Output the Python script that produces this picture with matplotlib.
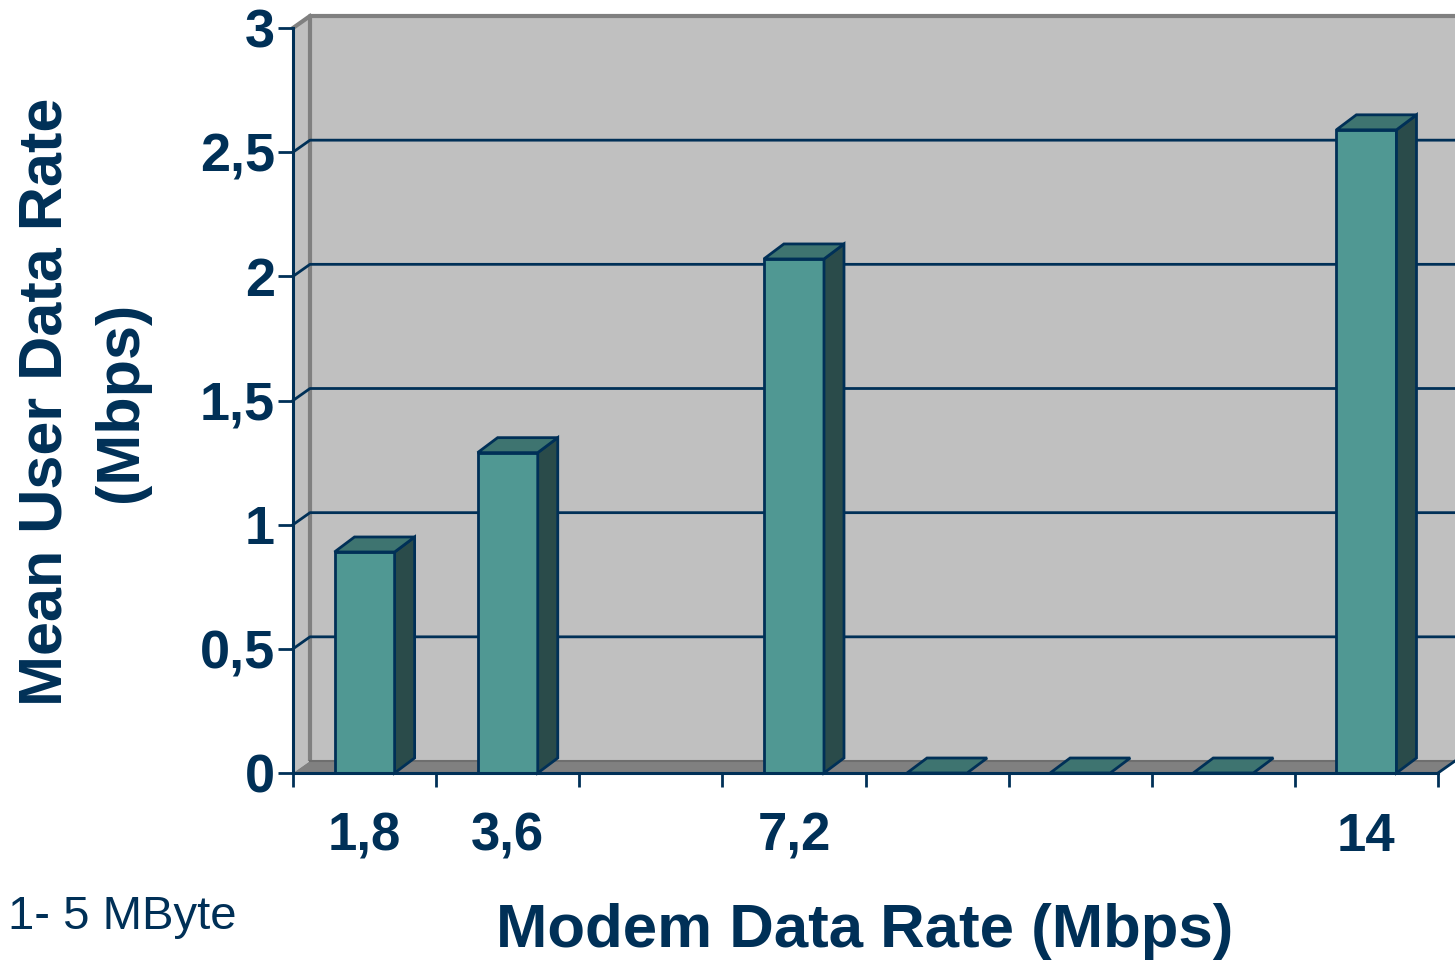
import matplotlib.pyplot as plt
from matplotlib.patches import Polygon
import numpy as np

# modem rate slots (8 positions on the category axis)
slot_labels = ['1,8', '3,6', '', '7,2', '', '', '', '14']
user_rate = [0.89, 1.29, np.nan, 2.07, 0, 0, 0, 2.59]
y_ticks = [0, 0.5, 1, 1.5, 2, 2.5, 3]
y_tick_labels = ['0', '0,5', '1', '1,5', '2', '2,5', '3']

navy = '#003057'
front_c = '#509893'
top_c = '#3e7470'
side_c = '#2a4b4a'

plt.rcParams['font.family'] = ['Liberation Sans', 'DejaVu Sans']

fig = plt.figure(figsize=(14.55, 9.6), dpi=100)
W, H = 1455, 960
ax = fig.add_axes([293 / W, (H - 773) / H, (1438 - 293) / W, (773 - 28) / H])
ax.set_xlim(0, len(user_rate))
ax.set_ylim(0, 3)
ax.patch.set_visible(False)

# depth offsets in data units
px_x = len(user_rate) / (1438 - 293)
px_y = 3 / (773 - 28)
wdx, wdy = 17 * px_x, 12 * px_y   # walls
bdx, bdy = 20 * px_x, 15 * px_y   # bars
n = len(user_rate)

# back wall, side wall, floor
ax.add_patch(Polygon([(wdx, wdy), (n + wdx, wdy), (n + wdx, 3 + wdy), (wdx, 3 + wdy)],
                     closed=True, fc='#c0c0c0', ec='none', clip_on=False, zorder=0))
ax.add_patch(Polygon([(0, 0), (wdx, wdy), (wdx, 3 + wdy), (0, 3)],
                     closed=True, fc='#c0c0c0', ec='none', clip_on=False, zorder=0))
ax.add_patch(Polygon([(0, 0), (n, 0), (n + wdx, wdy), (wdx, wdy)],
                     closed=True, fc='#808080', ec='none', clip_on=False, zorder=0.5))
ax.plot([wdx, wdx, n + wdx], [wdy, 3 + wdy, 3 + wdy], color='#808080', lw=3,
        clip_on=False, zorder=0.6, solid_capstyle='butt')
ax.plot([0, wdx], [3, 3 + wdy], color='#808080', lw=3, clip_on=False, zorder=0.6)
ax.plot([wdx, n + wdx], [wdy, wdy], color='#6e6e6e', lw=1.5, clip_on=False, zorder=0.6)
ax.plot([n, n + wdx], [0, wdy], color=navy, lw=2, clip_on=False, zorder=0.6)

for t in y_ticks[1:-1]:
    ax.plot([0, wdx, n + wdx], [t, t + wdy, t + wdy], color=navy, lw=2,
            clip_on=False, zorder=0.7)

# bars
bw = 0.42
for i, v in enumerate(user_rate):
    if np.isnan(v):
        continue
    x0 = i + 0.5 - bw / 2
    x1 = i + 0.5 + bw / 2
    if v > 0:
        ax.add_patch(Polygon([(x0, 0), (x1, 0), (x1, v), (x0, v)], closed=True,
                             fc=front_c, ec=navy, lw=2, clip_on=False, zorder=2,
                             joinstyle='miter'))
        ax.add_patch(Polygon([(x1, 0), (x1 + bdx, bdy), (x1 + bdx, v + bdy), (x1, v)],
                             closed=True, fc=side_c, ec=navy, lw=2, clip_on=False,
                             zorder=2, joinstyle='miter'))
    ax.add_patch(Polygon([(x0, v), (x1, v), (x1 + bdx, v + bdy), (x0 + bdx, v + bdy)],
                         closed=True, fc=top_c, ec=navy, lw=2, clip_on=False, zorder=2,
                         joinstyle='miter'))

# axes
for s in ['top', 'right']:
    ax.spines[s].set_visible(False)
for s in ['left', 'bottom']:
    ax.spines[s].set_color(navy)
    ax.spines[s].set_linewidth(2.2)
    ax.spines[s].set_zorder(3)

ax.set_yticks(y_ticks)
ax.set_yticklabels(y_tick_labels)
ax.tick_params(axis='y', length=11, width=2, color=navy, pad=2,
               labelsize=39, labelcolor=navy)
for lab in ax.get_yticklabels():
    lab.set_fontweight('bold')

ax.set_xticks(np.arange(n + 1))
ax.set_xticklabels([])
ax.set_xticks(np.arange(n) + 0.5, minor=True)
ax.set_xticklabels(slot_labels, minor=True)
ax.tick_params(axis='x', which='major', length=10, width=2, color=navy)
ax.tick_params(axis='x', which='minor', length=0, pad=28, labelsize=38,
               labelcolor=navy)
for lab in ax.get_xticklabels(minor=True):
    lab.set_fontweight('bold')

fig.text(84 / W, (H - 402) / H, 'Mean User Data Rate\n(Mbps)', rotation=90,
         ha='center', va='center', multialignment='center', fontsize=44,
         fontweight='bold', color=navy, linespacing=1.42)
fig.text(865 / W, (H - 931) / H, 'Modem Data Rate (Mbps)', ha='center', va='center',
         fontsize=44.5, fontweight='bold', color=navy)
fig.text(8 / W, (H - 917) / H, '1- 5 MByte', ha='left', va='center', fontsize=34,
         color=navy)

fig.savefig('out.png', dpi=100)
